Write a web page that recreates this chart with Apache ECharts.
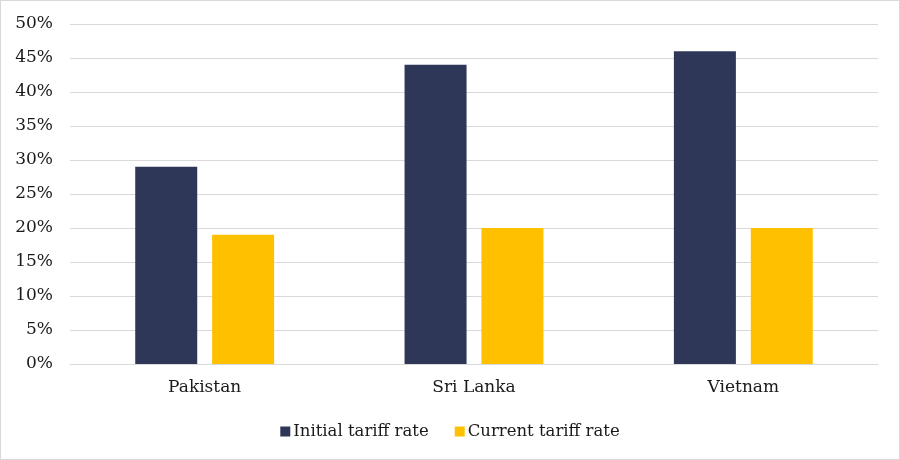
<!DOCTYPE html>
<html>
<head>
<meta charset="utf-8">
<script src="https://cdn.jsdelivr.net/npm/echarts@6/dist/echarts.min.js"></script>
<style>
html,body{margin:0;padding:0;background:#fff;}
#wrap{position:absolute;left:0;top:0;width:898px;height:458px;border:1px solid #d9d9d9;}
#chart{width:898px;height:458px;}
</style>
</head>
<body>
<div id="wrap"><div id="chart"></div></div>
<script>
var categories = ['Pakistan', 'Sri Lanka', 'Vietnam'];
var initialRate = [29, 44, 46];
var currentRate = [19, 20, 20];
var yTicks = [0, 5, 10, 15, 20, 25, 30, 35, 40, 45, 50];

var chart = echarts.init(document.getElementById('chart'));
var font = 'DejaVu Serif';
chart.setOption({
  animation: false,
  grid: {left: 69, right: 21, top: 23, bottom: 95},
  legend: {
    bottom: 14,
    left: 'center',
    itemWidth: 10, itemHeight: 10, itemGap: 26,
    icon: 'rect',
    textStyle: {fontFamily: font, fontSize: 16.5, color: '#1a1a1a', padding: [0, 0, 0, -2]},
    data: ['Initial tariff rate', 'Current tariff rate']
  },
  xAxis: {
    type: 'category',
    data: categories,
    axisTick: {show: false},
    axisLine: {lineStyle: {color: '#d9d9d9', width: 1}},
    axisLabel: {fontFamily: font, fontSize: 17, color: '#1a1a1a', margin: 15}
  },
  yAxis: {
    type: 'value',
    min: yTicks[0], max: yTicks[yTicks.length - 1], interval: 5,
    axisLine: {show: false},
    axisTick: {show: false},
    splitLine: {lineStyle: {color: '#d9d9d9', width: 1}},
    axisLabel: {fontFamily: font, fontSize: 17, color: '#1a1a1a', margin: 17,
      formatter: function (v) { return v + '%'; }}
  },
  series: [
    {name: 'Initial tariff rate', type: 'bar', data: initialRate, barWidth: 62, barGap: '24%',
     itemStyle: {color: '#2f3759'}},
    {name: 'Current tariff rate', type: 'bar', data: currentRate, barWidth: 62,
     itemStyle: {color: '#ffc000'}}
  ]
});
</script>
</body>
</html>
